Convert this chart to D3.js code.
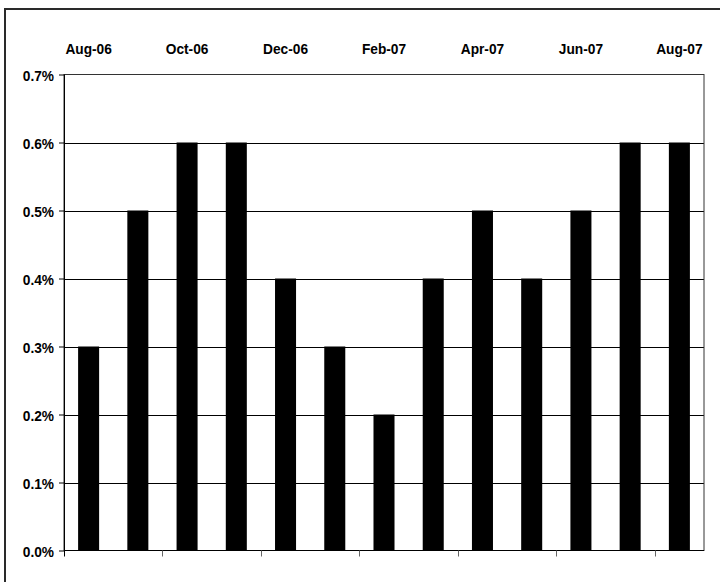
<!DOCTYPE html>
<html>
<head>
<meta charset="utf-8">
<script src="https://cdn.jsdelivr.net/npm/d3@7"></script>
<style>
  html, body { margin: 0; padding: 0; background: #fff; }
  svg { display: block; }
  text { font-family: Arial, "Liberation Sans", sans-serif; font-weight: bold; fill: #000; }
</style>
</head>
<body>
<svg id="chart" width="720" height="582"></svg>
<script>
const months = ["Aug-06","Sep-06","Oct-06","Nov-06","Dec-06","Jan-07","Feb-07","Mar-07","Apr-07","May-07","Jun-07","Jul-07","Aug-07"];
const values = [0.003,0.005,0.006,0.006,0.004,0.003,0.002,0.004,0.005,0.004,0.005,0.006,0.006];
const yTicks = [0,0.001,0.002,0.003,0.004,0.005,0.006,0.007];

const svg = d3.select("#chart");
const pLeft = 64, pRight = 704, pTop = 74.5, pBottom = 550.5;
const fs = 15.5, sx = 0.885;

// outer frame
svg.append("rect")
  .attr("x", 5).attr("y", 9)
  .attr("width", 730).attr("height", 590)
  .attr("fill", "none").attr("stroke", "#2a2a2a").attr("stroke-width", 2);

const x = d3.scaleBand().domain(months).range([pLeft, pRight])
  .paddingInner(0.573).paddingOuter(0.2865);
const y = d3.scaleLinear().domain([0, 0.007]).range([pBottom, pTop]);

// gridlines
svg.append("g").selectAll("line").data(yTicks.filter(t => t > 0 && t < 0.007)).join("line")
  .attr("x1", pLeft).attr("x2", pRight)
  .attr("y1", d => Math.round(y(d)) + 0.5).attr("y2", d => Math.round(y(d)) + 0.5)
  .attr("stroke", "#000").attr("stroke-width", 1);

// plot border
svg.append("rect")
  .attr("x", pLeft).attr("y", pTop)
  .attr("width", pRight - pLeft).attr("height", pBottom - pTop)
  .attr("fill", "none").attr("stroke", "#333").attr("stroke-width", 1);

// bars
svg.append("g").selectAll("rect").data(values).join("rect")
  .attr("x", (d, i) => x(months[i]))
  .attr("width", x.bandwidth())
  .attr("y", d => y(d))
  .attr("height", d => y(0) - y(d))
  .attr("fill", "#000");

// y axis
const yAxis = d3.axisLeft(y).tickValues(yTicks).tickFormat(d3.format(".1%"))
  .tickSize(5).tickPadding(10);
const gy = svg.append("g").attr("transform", `translate(${pLeft},0)`).call(yAxis);
gy.select(".domain").remove();
gy.selectAll(".tick line").attr("stroke", "#000");
gy.selectAll(".tick text")
  .attr("font-family", "Arial, 'Liberation Sans', sans-serif")
  .attr("font-weight", "bold").attr("font-size", fs)
  .attr("x", -10 / sx).attr("dy", "0.36em")
  .attr("transform", `scale(${sx},1)`);
svg.append("line").attr("x1", pLeft + 0.5).attr("x2", pLeft + 0.5)
  .attr("y1", pTop).attr("y2", pBottom + 6).attr("stroke", "#000");

// x axis baseline + ticks every 2 categories
svg.append("line").attr("x1", pLeft).attr("x2", pRight)
  .attr("y1", pBottom).attr("y2", pBottom).attr("stroke", "#000");
const step = x.step();
const xTickPos = d3.range(1, 7).map(i => pLeft + i * 2 * step);
svg.append("g").selectAll("line").data(xTickPos).join("line")
  .attr("x1", d => Math.round(d) + 0.5).attr("x2", d => Math.round(d) + 0.5)
  .attr("y1", pBottom).attr("y2", pBottom + 6)
  .attr("stroke", "#666");

// top labels every other month
const topLabels = months.filter((m, i) => i % 2 === 0);
svg.append("g").selectAll("text").data(topLabels).join("text")
  .attr("transform", d => `translate(${x(d) + x.bandwidth() / 2},54) scale(${sx},1)`)
  .attr("text-anchor", "middle")
  .attr("font-size", fs)
  .text(d => d);
</script>
</body>
</html>
